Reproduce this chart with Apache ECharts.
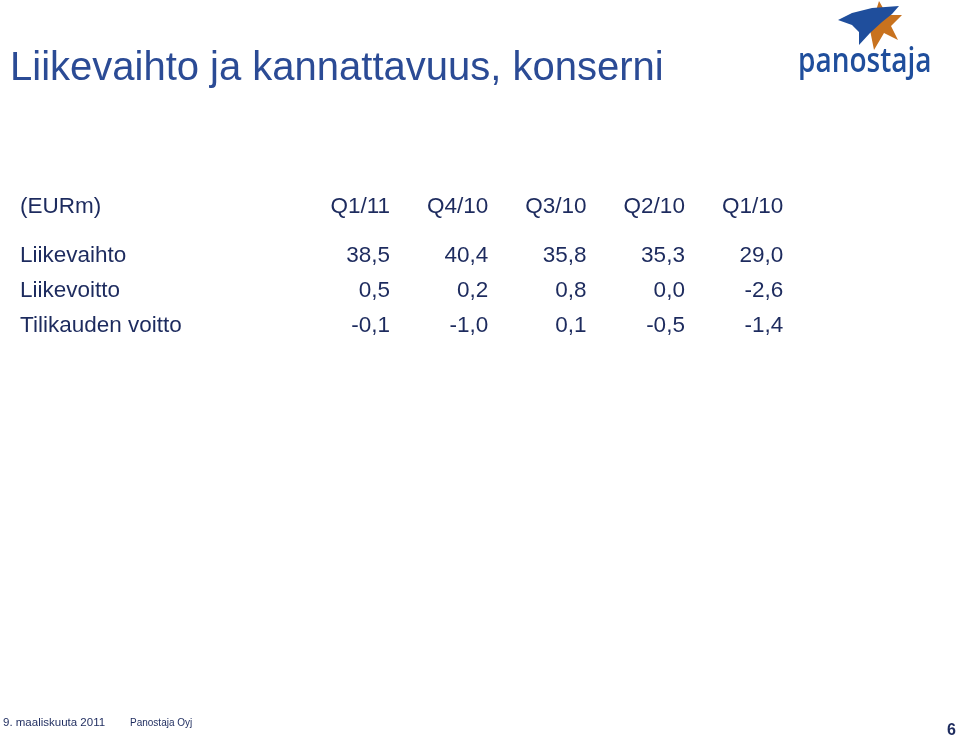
<!DOCTYPE html>
<html>
<head>
<meta charset="utf-8">
<script src="https://cdn.jsdelivr.net/npm/echarts@6/dist/echarts.min.js"></script>
<style>
html,body{margin:0;padding:0;background:#fff;}
#chart{width:960px;height:741px;}
</style>
</head>
<body>
<div id="chart"></div>
<script>
// ---- data ----
var titleText = 'Liikevaihto ja kannattavuus, konserni';
var unitLabel = '(EURm)';
var quarters = ['Q1/11', 'Q4/10', 'Q3/10', 'Q2/10', 'Q1/10'];
var rowLabels = ['Liikevaihto', 'Liikevoitto', 'Tilikauden voitto'];
var liikevaihto = [38.5, 40.4, 35.8, 35.3, 29.0];
var liikevoitto = [0.5, 0.2, 0.8, 0.0, -2.6];
var tilikaudenVoitto = [-0.1, -1.0, 0.1, -0.5, -1.4];
var footerDate = '9. maaliskuuta 2011';
var footerCompany = 'Panostaja Oyj';
var pageNumber = '6';
var logoText = 'panostaja';

var rows = [liikevaihto, liikevoitto, tilikaudenVoitto];
var cells = [];
rows.forEach(function (vals, r) {
  vals.forEach(function (v, c) { cells.push([c, r, v]); });
});
function fmt(v) { return v.toFixed(1).replace('.', ','); }

var NAVY = '#1d2b5e';
var TITLE = '#2b4b95';
var FONT = 'Liberation Sans';
var FS = 22.5;
var COLW = 98.3;

var chart = echarts.init(document.getElementById('chart'), null, {renderer: 'canvas'});
chart.setOption({
  animation: false,
  backgroundColor: '#ffffff',
  textStyle: {fontFamily: FONT},
  grid: {left: 291.7, right: 176.8, top: 238.5, bottom: 397.5, containLabel: false},
  xAxis: {
    type: 'category',
    position: 'top',
    data: quarters,
    boundaryGap: true,
    axisLine: {show: false},
    axisTick: {show: false},
    splitLine: {show: false},
    axisLabel: {
      margin: 31.5,
      align: 'center',
      verticalAlign: 'middle',
      formatter: function (v) { return '{a|' + v + '}'; },
      rich: {a: {width: COLW, align: 'right', fontSize: FS, color: NAVY, fontFamily: FONT}}
    }
  },
  yAxis: {
    type: 'category',
    inverse: true,
    data: rowLabels,
    boundaryGap: true,
    axisLine: {show: false},
    axisTick: {show: false},
    splitLine: {show: false},
    axisLabel: {
      align: 'left',
      margin: 271.7,
      fontSize: FS,
      color: NAVY,
      fontFamily: FONT
    }
  },
  series: [{
    type: 'scatter',
    data: cells,
    symbolSize: 1,
    itemStyle: {color: 'transparent', opacity: 1},
    silent: true,
    label: {
      show: true,
      position: 'inside',
      color: NAVY,
      opacity: 1,
      textBorderWidth: 0,
      textBorderColor: 'transparent',
      formatter: function (p) { return '{a|' + fmt(p.value[2]) + '}'; },
      rich: {a: {width: COLW, align: 'right', fontSize: FS, color: NAVY, textBorderWidth: 0, fontFamily: FONT}}
    }
  }],
  graphic: [
    {type: 'text', left: 10, top: 49, style: {text: titleText, fontSize: 40, fill: TITLE, fontFamily: FONT}},
    {type: 'text', x: 20, y: 207, style: {text: unitLabel, fontSize: FS, fill: NAVY, fontFamily: FONT, verticalAlign: 'middle'}},
    {type: 'text', x: 3, y: 723, style: {text: footerDate, fontSize: 11.5, fill: NAVY, fontFamily: FONT, verticalAlign: 'middle'}},
    {type: 'text', x: 130, y: 723, style: {text: footerCompany, fontSize: 10, fill: NAVY, fontFamily: FONT, verticalAlign: 'middle'}},
    {type: 'text', x: 956, y: 731, style: {text: pageNumber, fontSize: 16, fontWeight: 'bold', fill: NAVY, fontFamily: FONT, align: 'right', verticalAlign: 'middle'}},
    // logo: orange star
    {type: 'polygon', shape: {points: [[879,1],[887,15],[902,15],[891,26],[898,40],[884,33],[874,50],[870,30]]}, style: {fill: '#c8721e'}},
    // logo: blue swoosh
    {type: 'polygon', shape: {points: [[838,20],[852,13],[872,8],[899,6],[892,14],[882,22],[870,33],[859,45],[859,32],[852,25]]}, style: {fill: '#1f4e9c'}},
    {type: 'text', x: 798, y: 62, scaleX: 0.8, style: {text: logoText, fontSize: 35, fontWeight: 600, fill: '#1f4e9c', fontFamily: 'Open Sans', verticalAlign: 'middle'}}
  ]
});
</script>
</body>
</html>
